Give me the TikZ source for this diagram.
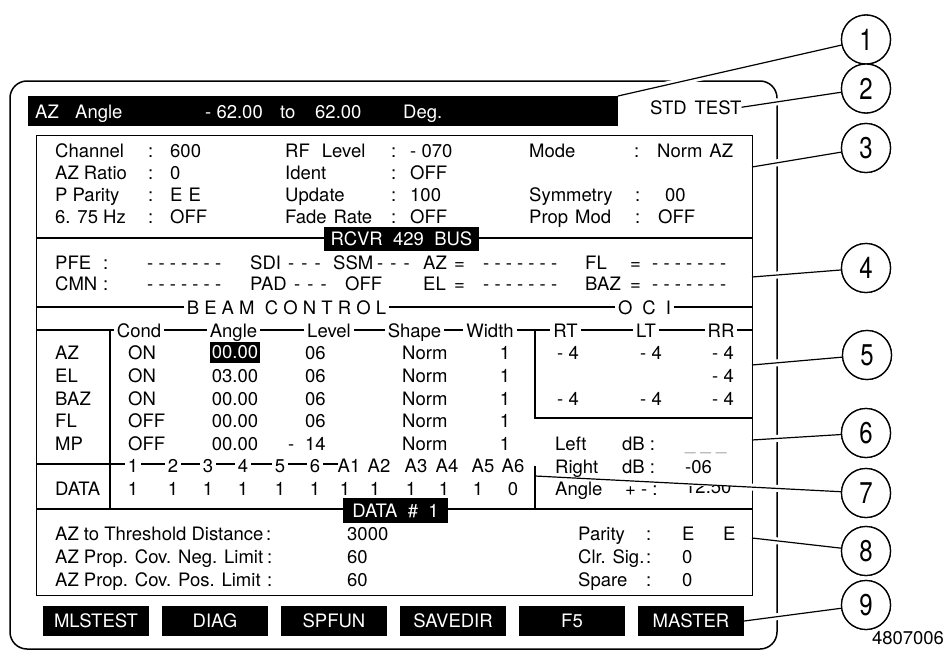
\documentclass[tikz,border=0pt]{standalone}
\usepackage{fontspec}
\setmainfont{TeX Gyre Heros}
\usepackage{graphicx}
\newcommand\myfs{\fontsize{18.5}{20}\selectfont}
\newcommand\dsh{- - - - - - -}
\newcommand\tdsh{-\hspace{7pt}-\hspace{7pt}-}
\newcommand\cnum[1]{\scalebox{0.8}[1]{#1}}
\begin{document}
\begin{tikzpicture}[x=1pt,y=-1pt,
  txt/.style={anchor=base west,inner sep=0pt,font=\myfs},
  ctx/.style={anchor=base,inner sep=0pt,font=\myfs},
  lab/.style={anchor=base,inner xsep=3pt,inner ysep=0pt,fill=white,font=\myfs},
  blk/.style={fill=black,text=white,inner sep=0pt,font=\myfs},
  rule/.style={line width=1.1pt},
  callout/.style={circle,draw,line width=1.3pt,fill=white,minimum size=49pt,inner sep=0pt,font=\fontsize{30}{30}\selectfont},
  leader/.style={line width=1.2pt,preaction={draw=white,line width=7pt,shorten <=#1,shorten >=2pt}},
]
\useasboundingbox (0,0) rectangle (946,653);
% outer frame
\draw[line width=1.5pt,rounded corners=17pt] (10,81) rectangle (777,649);
% title bar
\node[blk,anchor=north west,minimum width=590pt,minimum height=30pt] (bar) at (28,96) {};
\node[txt,text=white] (tAZ) at (35,118) {AZ};
\node[txt,text=white] (tAng) at (75,118) {Angle};
\node[txt,text=white] (tmin) at (205,118) {- 62.00};
\node[txt,text=white] (tto) at (280,118) {to};
\node[txt,text=white] (tmax) at (315,118) {62.00};
\node[txt,text=white] (tdeg) at (403,118) {Deg.};
\node[txt] (std) at (650,114) {STD\hspace{8pt}TEST};
% inner box
\node[draw,rule,anchor=north west,minimum width=716pt,minimum height=460pt,inner sep=0pt] (ibox) at (36,135) {};
% section 1
\node[txt] (p1) at (55,157) {Channel};
\node[txt] (p1c) at (148,157) {:};
\node[txt] (p1v) at (170,157) {600};
\node[txt] (p2) at (55,179) {AZ Ratio};
\node[txt] (p2c) at (148,179) {:};
\node[txt] (p2v) at (170,179) {0};
\node[txt] (p3) at (55,201) {P Parity};
\node[txt] (p3c) at (148,201) {:};
\node[txt] (p3v) at (170,201) {E\hspace{6pt}E};
\node[txt] (p4) at (55,223) {6. 75 Hz};
\node[txt] (p4c) at (148,223) {:};
\node[txt] (p4v) at (170,223) {OFF};
\node[txt] (q1) at (285,157) {RF\hspace{12pt}Level};
\node[txt] (q1c) at (391,157) {:};
\node[txt] (q1v) at (410,157) {- 070};
\node[txt] (q2) at (285,179) {Ident};
\node[txt] (q2c) at (391,179) {:};
\node[txt] (q2v) at (410,179) {OFF};
\node[txt] (q3) at (285,201) {Update};
\node[txt] (q3c) at (391,201) {:};
\node[txt] (q3v) at (410,201) {100};
\node[txt] (q4) at (285,223) {Fade\hspace{7pt}Rate};
\node[txt] (q4c) at (391,223) {:};
\node[txt] (q4v) at (410,223) {OFF};
\node[txt] (m1) at (529,157) {Mode};
\node[txt] (m1c) at (634,157) {:};
\node[txt] (m1v) at (657,157) {Norm\hspace{7pt}AZ};
\node[txt] (m3) at (529,201) {Symmetry};
\node[txt] (m3c) at (635,201) {:};
\node[txt] (m3v) at (665,201) {00};
\node[txt] (m4) at (529,223) {Prop\hspace{7pt}Mod};
\node[txt] (m4c) at (635,223) {:};
\node[txt] (m4v) at (658,223) {OFF};
% section 2
\draw[rule] (36,238) -- (752,238);
\node[blk,minimum width=155pt,minimum height=24pt] (rcvr) at (401.5,239) {RCVR\ \ 429\ \ BUS};
\node[txt] (pfe) at (55,269) {PFE};
\node[txt] (pfec) at (103,269) {:};
\node[txt] (pfed) at (147,269) {\dsh};
\node[txt] (sdi) at (250,269) {SDI};
\node[txt] (sdid) at (288,269) {\tdsh};
\node[txt] (ssm) at (333,269) {SSM};
\node[txt] (ssmd) at (377,269) {\tdsh};
\node[txt] (raz) at (423,269) {AZ};
\node[txt] (raze) at (454,269) {=};
\node[txt] (razd) at (483,269) {\dsh};
\node[txt] (rfl) at (585,269) {FL};
\node[txt] (rfle) at (630,269) {=};
\node[txt] (rfld) at (652,269) {\dsh};
\node[txt] (cmn) at (55,290) {CMN};
\node[txt] (cmnc) at (103,290) {:};
\node[txt] (cmnd) at (147,290) {\dsh};
\node[txt] (pad) at (250,290) {PAD};
\node[txt] (padd) at (294,290) {\tdsh};
\node[txt] (padv) at (345,290) {OFF};
\node[txt] (rel) at (423,290) {EL};
\node[txt] (rele) at (454,290) {=};
\node[txt] (reld) at (483,290) {\dsh};
\node[txt] (rbaz) at (585,290) {BAZ};
\node[txt] (rbaze) at (630,290) {=};
\node[txt] (rbazd) at (652,290) {\dsh};
% beam control line
\draw[rule] (36,307) -- (752,307);
\node[lab] (beam) at (286.5,314) {B E A M\ \ C O N T R O L};
\node[lab] (oci) at (644.5,314) {O\hspace{10pt}C\hspace{10pt}I};
% header line
\draw[rule] (36,330) -- (752,330);
\draw[rule] (110,330) -- (110,509);
\draw[rule] (535,330) -- (535,418) -- (752,418);
\draw[rule] (535,466) -- (535,509);
\node[lab] (hcond) at (139,337) {Cond};
\node[lab] (hang) at (233.5,337) {Angle};
\node[lab] (hlev) at (329,337) {Level};
\node[lab] (hsha) at (414.5,337) {Shape};
\node[lab] (hwid) at (490,337) {Width};
\node[lab] (hrt) at (565.5,337) {RT};
\node[lab] (hlt) at (646,337) {LT};
\node[lab] (hrr) at (721,337) {RR};
% rows
\node[txt] (r1) at (55,359) {AZ};
\node[txt] (r2) at (55,382) {EL};
\node[txt] (r3) at (55,405) {BAZ};
\node[txt] (r4) at (55,427) {FL};
\node[txt] (r5) at (55,450) {MP};
\node[txt] (c1a) at (128,359) {ON};
\node[txt] (c2a) at (128,382) {ON};
\node[txt] (c3a) at (128,405) {ON};
\node[txt] (c4a) at (128,427) {OFF};
\node[txt] (c5a) at (128,450) {OFF};
\node[blk,minimum width=50pt,minimum height=21pt] (hl) at (235,352.5) {00.00};
\node[ctx] (a2) at (235,382) {03.00};
\node[ctx] (a3) at (235,405) {00.00};
\node[ctx] (a4) at (235,427) {00.00};
\node[ctx] (a5) at (235,450) {00.00};
\node[txt] (l1) at (305,359) {06};
\node[txt] (l2) at (305,382) {06};
\node[txt] (l3) at (305,405) {06};
\node[txt] (l4) at (305,427) {06};
\node[txt] (l5m) at (288,450) {-};
\node[txt] (l5) at (305,450) {14};
\node[txt] (s1t) at (402,359) {Norm};
\node[txt] (s2t) at (402,382) {Norm};
\node[txt] (s3t) at (402,405) {Norm};
\node[txt] (s4t) at (402,427) {Norm};
\node[txt] (s5t) at (402,450) {Norm};
\node[ctx] (w1) at (505,359) {1};
\node[ctx] (w2) at (505,382) {1};
\node[ctx] (w3) at (505,405) {1};
\node[ctx] (w4) at (505,427) {1};
\node[ctx] (w5) at (505,450) {1};
\node[txt] (o11) at (557,359) {- 4};
\node[txt] (o12) at (640,359) {- 4};
\node[txt] (o13) at (712,359) {- 4};
\node[txt] (o23) at (712,382) {- 4};
\node[txt] (o31) at (557,405) {- 4};
\node[txt] (o32) at (640,405) {- 4};
\node[txt] (o33) at (712,405) {- 4};
% number row
\draw[rule] (36,464) -- (338,464);
\node[lab] (n1) at (133,472) {1};
\node[lab] (n2) at (173,472) {2};
\node[lab] (n3) at (208,472) {3};
\node[lab] (n4) at (243,472) {4};
\node[lab] (n5) at (280,472) {5};
\node[lab] (n6) at (315,472) {6};
\node[ctx] (na1) at (349,472) {A1};
\node[ctx] (na2) at (379,472) {A2};
\node[ctx] (na3) at (416,472) {A3};
\node[ctx] (na4) at (447,472) {A4};
\node[ctx] (na5) at (483,472) {A5};
\node[ctx] (na6) at (513,472) {A6};
\node[txt] (data) at (55,495) {DATA};
\node[ctx] (d01) at (133,495) {1};
\node[ctx] (d02) at (173,495) {1};
\node[ctx] (d03) at (208,495) {1};
\node[ctx] (d04) at (243,495) {1};
\node[ctx] (d05) at (280,495) {1};
\node[ctx] (d06) at (315,495) {1};
\node[ctx] (d07) at (345,495) {1};
\node[ctx] (d08) at (375,495) {1};
\node[ctx] (d09) at (411,495) {1};
\node[ctx] (d10) at (444,495) {1};
\node[ctx] (d11) at (478,495) {1};
\node[ctx] (d12) at (513,495) {0};
% left/right dB
\node[txt] (left) at (555,450) {Left};
\node[txt] (leftdb) at (622,450) {dB :};
\node[txt,text=black!40] (leftv) at (685,450) {\_ \_ \_};
\node[txt] (right) at (555,473) {Right};
\node[txt] (rightdb) at (622,473) {dB :};
\node[txt] (rightv) at (685,473) {-06};
\node[txt] (angl) at (555,495) {Angle};
\node[txt] (angpm) at (625,495) {+ - :};
\begin{scope}
\clip (680,486) rectangle (740,500);
\node[txt] (angv) at (685,493) {12.50};
\end{scope}
% section 4
\draw[rule] (36,509) -- (752,509);
\node[blk,minimum width=105pt,minimum height=25pt] (dnum) at (395.5,510.5) {DATA\ \ \#\ \ 1};
\node[txt] (z1) at (55,540) {AZ to Threshold Distance};
\node[txt] (z1c) at (266,540) {:};
\node[txt] (z1v) at (347,540) {3000};
\node[txt] (z2) at (55,563) {AZ Prop. Cov. Neg. Limit};
\node[txt] (z2c) at (267,563) {:};
\node[txt] (z2v) at (347,563) {60};
\node[txt] (z3) at (55,586) {AZ Prop. Cov. Pos. Limit};
\node[txt] (z3c) at (267,586) {:};
\node[txt] (z3v) at (347,586) {60};
\node[txt] (y1) at (578,540) {Parity};
\node[txt] (y1c) at (646,540) {:};
\node[txt] (y1v) at (682,540) {E};
\node[txt] (y1w) at (723,540) {E};
\node[txt] (y2) at (578,563) {Clr. Sig.};
\node[txt] (y2c) at (646,563) {:};
\node[txt] (y2v) at (682,563) {0};
\node[txt] (y3) at (578,586) {Spare};
\node[txt] (y3c) at (646,586) {:};
\node[txt] (y3v) at (682,586) {0};
% buttons
\node[blk,minimum width=106pt,minimum height=30pt] (b1) at (96,621) {MLSTEST};
\node[blk,minimum width=106pt,minimum height=30pt] (b2) at (215,621) {DIAG};
\node[blk,minimum width=106pt,minimum height=30pt] (b3) at (334,621) {SPFUN};
\node[blk,minimum width=106pt,minimum height=30pt] (b4) at (453,621) {SAVEDIR};
\node[blk,minimum width=106pt,minimum height=30pt] (b5) at (572,621) {F5};
\node[blk,minimum width=106pt,minimum height=30pt] (b6) at (691,621) {MASTER};
\node[font=\myfs,inner sep=0pt] (fig) at (908,638) {4807006};
% callouts
\node[callout] (c1) at (866,39.5) {\cnum{1}};
\node[callout] (c2) at (866,88.5) {\cnum{2}};
\node[callout] (c3) at (866,148) {\cnum{3}};
\node[callout] (c4) at (866,268) {\cnum{4}};
\node[callout] (c5) at (867,355) {\cnum{5}};
\node[callout] (c6) at (866,433) {\cnum{6}};
\node[callout] (c7) at (866,493) {\cnum{7}};
\node[callout] (c8) at (866,551) {\cnum{8}};
\node[callout] (c9) at (866,605) {\cnum{9}};
\coordinate (s1) at (618,96);
\coordinate (s3) at (752,167);
\coordinate (s4) at (752,277);
\coordinate (s5) at (752,365);
\coordinate (s6) at (752,440);
\coordinate (s7) at (535,476);
\coordinate (s8) at (752,538);
\draw[leader=30pt] (s1) -- (c1);
\draw[leader=8pt] (std.east) -- (c2);
\draw[leader=6pt] (s3) -- (c3);
\draw[leader=6pt] (s4) -- (c4);
\draw[leader=6pt] (s5) -- (c5);
\draw[leader=6pt] (s6) -- (c6);
\draw[leader=200pt] (s7) -- (c7);
\draw[leader=6pt] (s8) -- (c8);
\draw[leader=8pt] (b6.east) -- (c9);
% redraw circles on top
\node[callout] (c1b) at (c1) {\cnum{1}};
\node[callout] (c2b) at (c2) {\cnum{2}};
\node[callout] (c3b) at (c3) {\cnum{3}};
\node[callout] (c4b) at (c4) {\cnum{4}};
\node[callout] (c5b) at (c5) {\cnum{5}};
\node[callout] (c6b) at (c6) {\cnum{6}};
\node[callout] (c7b) at (c7) {\cnum{7}};
\node[callout] (c8b) at (c8) {\cnum{8}};
\node[callout] (c9b) at (c9) {\cnum{9}};
\end{tikzpicture}
\end{document}
